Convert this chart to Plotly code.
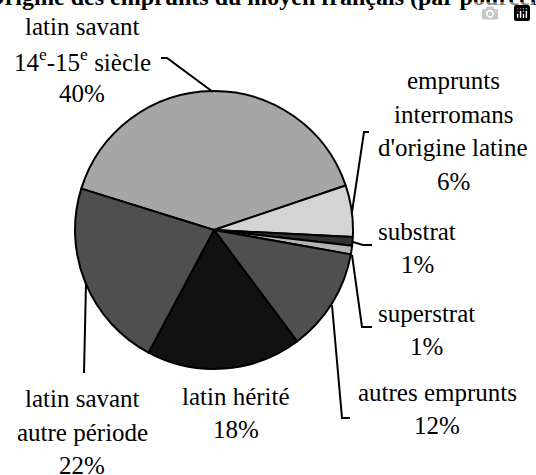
import plotly.graph_objects as go

W, H = 536, 475

# ---- data ----
labels = [
    ["latin savant", "14<sup>e</sup>-15<sup>e</sup> siècle"],
    ["emprunts", "interromans", "d'origine latine"],
    ["substrat"],
    ["superstrat"],
    ["autres emprunts"],
    ["latin hérité"],
    ["latin savant", "autre période"],
]
values = [40, 6, 1, 1, 12, 18, 22]
colors = ["#a6a6a6", "#d4d4d4", "#333333", "#b4b4b4", "#4f4f4f", "#111111", "#4f4f4f"]
title_text = "Origine des emprunts du moyen français (par pourcentage)"

# ---- layout helpers (pixel -> paper) ----
def px(x):
    return x / W

def py(y):
    return 1 - y / H

cx, cy, r = 214, 230, 139
SERIF = "Times New Roman"
LINE = 33.5

fig = go.Figure(
    go.Pie(
        labels=[" ".join(l) for l in labels],
        values=values,
        sort=False,
        direction="clockwise",
        rotation=-72.7,
        marker=dict(colors=colors, line=dict(color="black", width=2)),
        textinfo="none",
        hoverinfo="skip",
        showlegend=False,
        domain=dict(x=[px(cx - r), px(cx + r)], y=[py(cy + r), py(cy - r)]),
    )
)

# label block centres (pixels)
label_pos = [(82, 60), (453, 131), (417, 248), (426, 330), (437, 409), (236, 413), (82, 432)]

annotations = []
for lab, v, (x, y) in zip(labels, values, label_pos):
    lines = lab + [f"{v}%"]
    n = len(lines)
    for i, t in enumerate(lines):
        yy = y + (i - (n - 1) / 2) * LINE
        annotations.append(
            dict(
                text=t,
                x=px(x), y=py(yy), xref="paper", yref="paper",
                xanchor="center", yanchor="middle", align="center",
                showarrow=False, font=dict(family=SERIF, size=25, color="black"),
            )
        )

# clipped title at top
annotations.append(
    dict(
        text=f"<b>{title_text}</b>",
        x=px(290), y=py(12.5), xref="paper", yref="paper",
        xanchor="center", yanchor="bottom", showarrow=False,
        font=dict(family=SERIF, size=24, color="black"),
    )
)

leaders = [
    [(161, 58), (167, 58), (213, 92)],
    [(369, 132), (364, 132), (352, 212)],
    [(353, 242), (363, 245), (372, 245)],
    [(352, 255), (362, 327), (372, 327)],
    [(332, 305), (342, 418), (350, 418)],
    [(86, 283), (84, 373)],
]
shapes = []
for pts in leaders:
    path = "M " + " L ".join(f"{px(x):.5f},{py(y):.5f}" for x, y in pts)
    shapes.append(dict(type="path", path=path, xref="paper", yref="paper",
                       line=dict(color="black", width=2)))

fig.update_layout(
    width=W, height=H,
    margin=dict(l=0, r=0, t=0, b=0),
    paper_bgcolor="white", plot_bgcolor="white",
    font=dict(family=SERIF, color="black"),
    annotations=annotations,
    shapes=shapes,
)

fig.write_html(
    "out.html",
    post_script="document.body.style.margin='0';document.body.style.overflow='hidden';",
)
